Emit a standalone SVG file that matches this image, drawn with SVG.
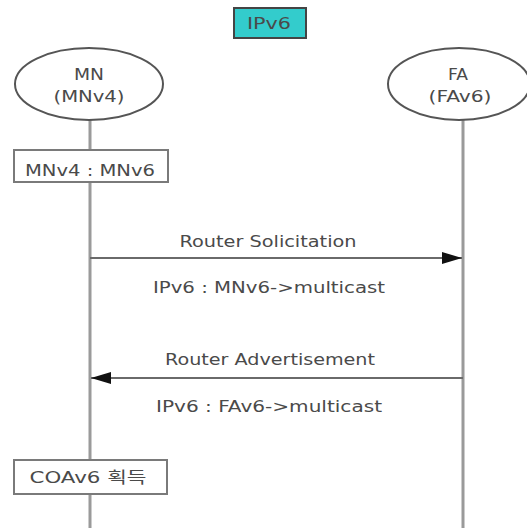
<svg xmlns="http://www.w3.org/2000/svg" width="527" height="528" viewBox="0 0 527 528">
  <style>
    .lbl { font-family: "DejaVu Sans", "Noto Sans CJK KR", sans-serif; font-size: 16px; fill: #4a4a4a; text-anchor: middle; }
    .life { stroke: #9a9a9a; stroke-width: 3; fill: none; }
    .msg { stroke: #6a6a6a; stroke-width: 2; fill: none; }
    .ent { fill: #ffffff; stroke: #555555; stroke-width: 2; }
    .step { fill: #ffffff; stroke: #7a7a7a; stroke-width: 2; }
  </style>
  <defs>
    <marker id="head" viewBox="0 0 20 12" refX="20" refY="6" markerWidth="20" markerHeight="12" markerUnits="userSpaceOnUse" orient="auto">
      <path d="M0,0 L20,6 L0,12 Z" fill="#111111"/>
    </marker>
  </defs>
  <rect width="527" height="528" fill="#ffffff"/>

  <!-- lifelines -->
  <g id="lifelines">
    <line class="life" x1="90" y1="120" x2="90" y2="528"/>
    <line class="life" x1="463" y1="120" x2="463" y2="528"/>
  </g>

  <!-- protocol tag -->
  <g id="tag-ipv6">
    <rect x="234" y="8" width="72" height="30" fill="#33cccc" stroke="#444444" stroke-width="2"/>
    <text class="lbl" x="269" y="29" textLength="44" lengthAdjust="spacingAndGlyphs" fill="#333333">IPv6</text>
  </g>

  <!-- entities -->
  <g id="node-mn">
    <ellipse class="ent" cx="89" cy="84" rx="74" ry="36"/>
    <text class="lbl" x="89" y="80" textLength="30" lengthAdjust="spacingAndGlyphs">MN</text>
    <text class="lbl" x="89" y="102" textLength="71" lengthAdjust="spacingAndGlyphs">(MNv4)</text>
  </g>
  <g id="node-fa">
    <ellipse class="ent" cx="459" cy="84" rx="71" ry="36"/>
    <text class="lbl" x="458" y="80" textLength="20" lengthAdjust="spacingAndGlyphs">FA</text>
    <text class="lbl" x="460" y="102" textLength="63" lengthAdjust="spacingAndGlyphs">(FAv6)</text>
  </g>

  <!-- local steps on MN -->
  <g id="step-dual">
    <rect class="step" x="14" y="150" width="154" height="32"/>
    <text class="lbl" x="90" y="176" textLength="130" lengthAdjust="spacingAndGlyphs">MNv4 : MNv6</text>
  </g>
  <g id="step-coa">
    <rect class="step" x="14" y="460" width="153" height="34"/>
    <text class="lbl" x="88" y="483" textLength="117" lengthAdjust="spacingAndGlyphs">COAv6 획득</text>
  </g>

  <!-- messages -->
  <g id="connectors">
    <line class="msg" x1="90" y1="258" x2="462" y2="258" marker-end="url(#head)"/>
    <line class="msg" x1="463" y1="378" x2="91" y2="378" marker-end="url(#head)"/>
  </g>
  <g id="labels">
    <text class="lbl" x="268" y="247" textLength="177" lengthAdjust="spacingAndGlyphs">Router Solicitation</text>
    <text class="lbl" x="269" y="293" textLength="232" lengthAdjust="spacingAndGlyphs">IPv6 : MNv6-&gt;multicast</text>
    <text class="lbl" x="270" y="365" textLength="210" lengthAdjust="spacingAndGlyphs">Router Advertisement</text>
    <text class="lbl" x="269" y="412" textLength="226" lengthAdjust="spacingAndGlyphs">IPv6 : FAv6-&gt;multicast</text>
  </g>
</svg>
